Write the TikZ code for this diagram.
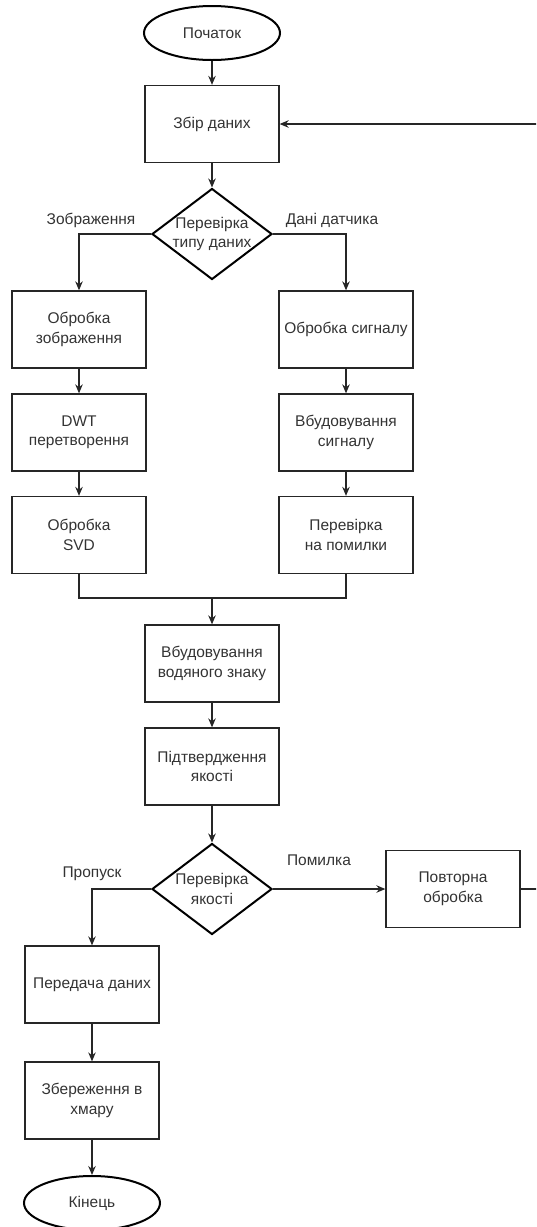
\documentclass[tikz,border=0pt]{standalone}
\usepackage{fontspec}
\setmainfont{Liberation Sans}
\usetikzlibrary{shapes.geometric,arrows.meta}
\begin{document}
\begin{tikzpicture}[x=1pt,y=-1pt,
  every node/.style={font=\fontsize{15.5}{19.5}\selectfont, text=black!80},
  box/.style={draw=black!85, line width=1.3pt, minimum width=134pt, minimum height=77pt, align=center, inner sep=0pt},
  term/.style={ellipse, draw=black, line width=2pt, minimum width=136pt, minimum height=54pt, inner sep=0pt},
  dec/.style={diamond, draw=black, line width=2pt, minimum width=120pt, minimum height=91pt, inner sep=0pt},
  lbl/.style={align=center, inner sep=0pt},
  flow/.style={draw=black!85, line width=1.3pt, -{Stealth[length=9pt,width=7.5pt]}},
  link/.style={draw=black!85, line width=1.3pt}]
\useasboundingbox (0,0) rectangle (536,1227);
\clip (0,0) rectangle (536,1227);

% main column
\node[term] (start) at (212,33) {Початок};
\node[box] (collect) at (212,124) {Збір даних};
\node[dec] (d1) at (212,234) {};
\node[lbl] (d1t) at (d1.center) {Перевірка\\типу даних};
\node[lbl] (limg) at (91,220) {Зображення};
\node[lbl] (lsens) at (332,220) {Дані датчика};

% image branch
\node[box] (img1) at (79,329.5) {Обробка\\зображення};
\node[box] (img2) at (79,432.5) {DWT\\перетворення};
\node[box] (img3) at (79,535) {Обробка\\SVD};

% sensor branch
\node[box] (sig1) at (346,329.5) {Обробка сигналу};
\node[box] (sig2) at (346,432.5) {Вбудовування\\сигналу};
\node[box] (sig3) at (346,535) {Перевірка\\на помилки};

\coordinate (merge) at (212,598);
\node[box] (embed) at (212,663.5) {Вбудовування\\водяного знаку};
\node[box] (qual) at (212,766.5) {Підтвердження\\якості};
\node[dec] (d2) at (212,889) {};
\node[lbl] (d2t) at (d2.center) {Перевірка\\якості};
\node[lbl] (lpass) at (92,874) {Пропуск};
\node[lbl] (lerr) at (319,860) {Помилка};
\node[box] (redo) at (453,889) {Повторна\\обробка};
\coordinate (loopR) at (560,889);

\node[box] (send) at (92,984.5) {Передача даних};
\node[box] (store) at (92,1100.5) {Збереження в\\хмару};
\node[term] (finish) at (92,1203) {Кінець};

% connectors
\draw[flow] (start) -- (collect);
\draw[flow] (collect) -- (d1);
\draw[flow] (d1.west) -| (img1.north);
\draw[flow] (d1.east) -| (sig1.north);
\draw[flow] (img1) -- (img2);
\draw[flow] (img2) -- (img3);
\draw[flow] (sig1) -- (sig2);
\draw[flow] (sig2) -- (sig3);
\draw[link] (img3.south) |- (merge) -| (sig3.south);
\draw[flow] (merge) -- (embed);
\draw[flow] (embed) -- (qual);
\draw[flow] (qual) -- (d2);
\draw[flow] (d2.east) -- (redo.west);
\draw[flow] (redo.east) -- (loopR) |- (collect.east);
\draw[flow] (d2.west) -| (send.north);
\draw[flow] (send) -- (store);
\draw[flow] (store) -- (finish);
\end{tikzpicture}
\end{document}
